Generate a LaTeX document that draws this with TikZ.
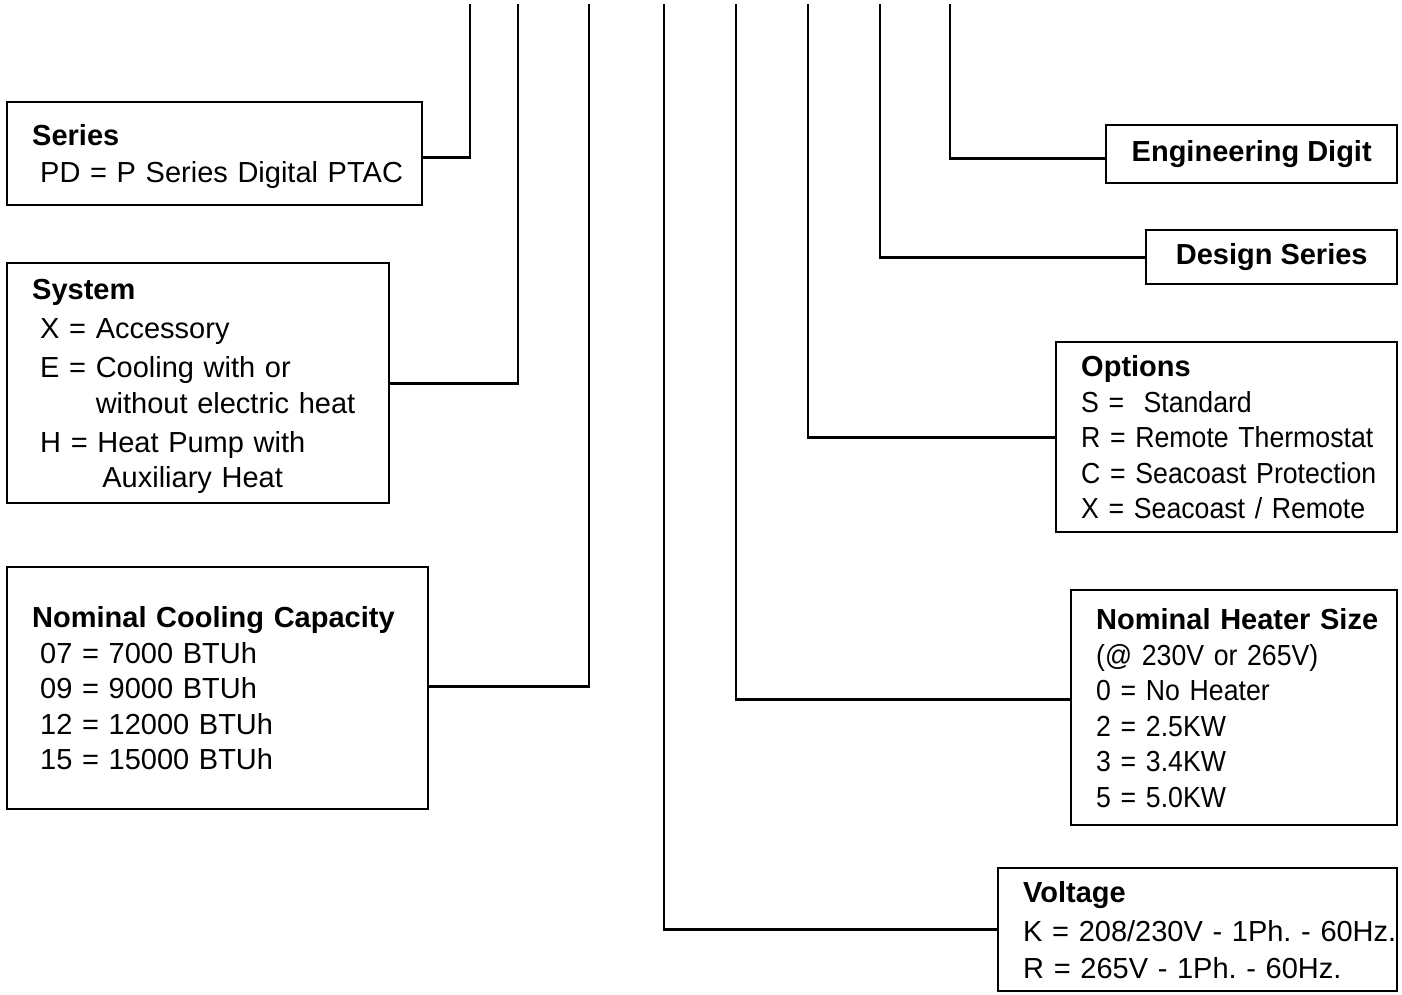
\documentclass[tikz,border=0pt]{standalone}
\usepackage{fontspec}
\usepackage{array}
\setmainfont{Liberation Sans}
\newfontfamily\narrowfont[FakeStretch=0.92]{Liberation Sans}
\usetikzlibrary{positioning}
\frenchspacing

\tikzset{
  codebox/.style={draw, line width=1.4pt, anchor=north west, align=left,
    inner xsep=0.5cm, inner ysep=0pt,
    font=\fontsize{16.5}{20.2}\selectfont},
  namebox/.style={draw, line width=1.4pt, anchor=north west, align=center,
    inner sep=0pt, font=\fontsize{16.5}{20.2}\selectfont\bfseries},
  lead/.style={line width=1.6pt}
}
\newcommand{\ind}{\hspace*{0.16cm}}
\newcommand{\topgap}{\noalign{\vspace{0.14cm}}}

\begin{document}
\begin{tikzpicture}[x=0.02cm, y=-0.02cm]
  \useasboundingbox (0,0) rectangle (1402,994);

  % left side boxes
  \node[codebox, text width=7.3cm, minimum height=2.06cm] (series) at (6,101)
    {\begin{tabular}{@{}l@{}}\topgap
     \textbf{Series}\\[0.03cm]
     \ind PD = P Series Digital PTAC
     \end{tabular}};
  \node[codebox, text width=6.64cm, minimum height=4.8cm] (system) at (6,262)
    {\begin{tabular}{@{}l@{}}\topgap
     \textbf{System}\\[0.07cm]
     \ind X = Accessory\\[0.07cm]
     \ind E = Cooling with or\\
     \ind\phantom{E = }without electric heat\\[0.07cm]
     \ind H = Heat Pump with\\
     \ind\phantom{H = }\hspace*{0.1cm}Auxiliary Heat
     \end{tabular}};
  \node[codebox, text width=7.42cm, minimum height=4.84cm] (cooling) at (6,566)
    {\begin{tabular}{@{}l@{}}\topgap
     \textbf{Nominal Cooling Capacity}\\
     \ind 07 = 7000 BTUh\\
     \ind 09 = 9000 BTUh\\
     \ind 12 = 12000 BTUh\\
     \ind 15 = 15000 BTUh
     \end{tabular}};

  % right side boxes
  \node[namebox, minimum width=5.82cm, minimum height=1.16cm] (engdigit) at (1105,124)
    {Engineering Digit};
  \node[namebox, minimum width=5.02cm, minimum height=1.08cm] (design) at (1145,229)
    {Design Series};
  \node[codebox, text width=5.82cm, minimum height=3.8cm] (options) at (1055,341)
    {\begin{tabular}{@{}>{\narrowfont}l@{}}\topgap
     {\rmfamily\bfseries Options}\\
     S =\ \ Standard\\
     R = Remote Thermostat\\
     C = Seacoast Protection\\
     X = Seacoast / Remote
     \end{tabular}};
  \node[codebox, text width=5.52cm, minimum height=4.7cm] (heater) at (1070,589)
    {\begin{tabular}{@{}>{\narrowfont}l@{}}\topgap
     {\rmfamily\bfseries Nominal Heater Size}\\
     (@ 230V or 265V)\\
     0 = No Heater\\
     2 = 2.5KW\\
     3 = 3.4KW\\
     5 = 5.0KW
     \end{tabular}};
  \node[codebox, text width=6.98cm, minimum height=2.46cm] (voltage) at (997,867)
    {\begin{tabular}{@{}l@{}}\topgap
     \textbf{Voltage}\\[0.07cm]
     K = 208/230V - 1Ph. - 60Hz.\\[0.03cm]
     R = 265V - 1Ph. - 60Hz.
     \end{tabular}};

  % digit positions along the top
  \coordinate (d1) at (470,4);
  \coordinate (d2) at (518,4);
  \coordinate (d3) at (589,4);
  \coordinate (d4) at (664,4);
  \coordinate (d5) at (736,4);
  \coordinate (d6) at (808,4);
  \coordinate (d7) at (880,4);
  \coordinate (d8) at (950,4);

  \draw[lead] (d1) |- ([yshift=-0.07cm]series.east);
  \draw[lead] (d2) |- (system.east);
  \draw[lead] (d3) |- ([yshift=0.04cm]cooling.east);
  \draw[lead] (d4) |- (voltage.west);
  \draw[lead] (d5) |- ([yshift=0.17cm]heater.west);
  \draw[lead] (d6) |- (options.west);
  \draw[lead] (d7) |- (design.west);
  \draw[lead] (d8) |- ([yshift=-0.08cm]engdigit.west);
\end{tikzpicture}
\end{document}
